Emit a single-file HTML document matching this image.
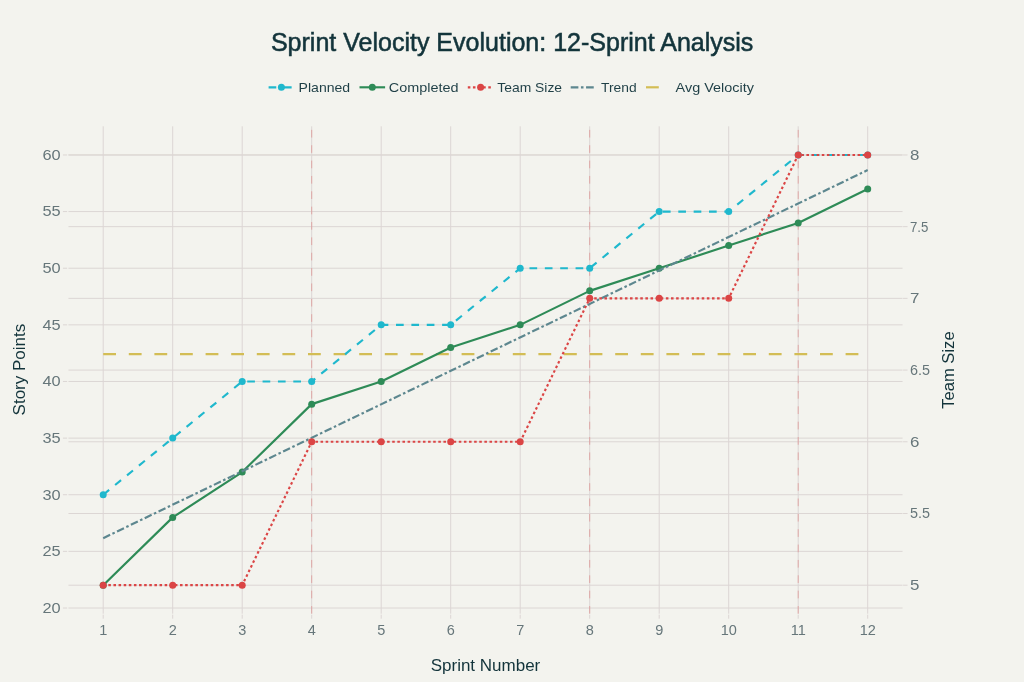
<!DOCTYPE html><html><head><meta charset="utf-8"><style>
html,body{margin:0;padding:0;background:#F3F3EE;width:1024px;height:682px;overflow:hidden}
svg{display:block;will-change:transform}
text{font-family:"Liberation Sans",sans-serif}
</style></head><body>
<svg width="1024" height="682" viewBox="0 0 1024 682">
<rect width="1024" height="682" fill="#F3F3EE"/>
<g stroke="#DCD6D4" stroke-width="1" fill="none"><line x1="68.45" y1="608.00" x2="902.55" y2="608.00"/><line x1="62.95" y1="608.00" x2="67.15" y2="608.00" /><line x1="68.45" y1="551.37" x2="902.55" y2="551.37"/><line x1="62.95" y1="551.37" x2="67.15" y2="551.37" /><line x1="68.45" y1="494.74" x2="902.55" y2="494.74"/><line x1="62.95" y1="494.74" x2="67.15" y2="494.74" /><line x1="68.45" y1="438.11" x2="902.55" y2="438.11"/><line x1="62.95" y1="438.11" x2="67.15" y2="438.11" /><line x1="68.45" y1="381.48" x2="902.55" y2="381.48"/><line x1="62.95" y1="381.48" x2="67.15" y2="381.48" /><line x1="68.45" y1="324.85" x2="902.55" y2="324.85"/><line x1="62.95" y1="324.85" x2="67.15" y2="324.85" /><line x1="68.45" y1="268.22" x2="902.55" y2="268.22"/><line x1="62.95" y1="268.22" x2="67.15" y2="268.22" /><line x1="68.45" y1="211.59" x2="902.55" y2="211.59"/><line x1="62.95" y1="211.59" x2="67.15" y2="211.59" /><line x1="68.45" y1="154.96" x2="902.55" y2="154.96"/><line x1="62.95" y1="154.96" x2="67.15" y2="154.96" /><line x1="68.45" y1="585.19" x2="902.55" y2="585.19"/><line x1="903.05" y1="585.19" x2="907.55" y2="585.19" /><line x1="68.45" y1="513.49" x2="902.55" y2="513.49"/><line x1="903.05" y1="513.49" x2="907.55" y2="513.49" /><line x1="68.45" y1="441.78" x2="902.55" y2="441.78"/><line x1="903.05" y1="441.78" x2="907.55" y2="441.78" /><line x1="68.45" y1="370.08" x2="902.55" y2="370.08"/><line x1="903.05" y1="370.08" x2="907.55" y2="370.08" /><line x1="68.45" y1="298.37" x2="902.55" y2="298.37"/><line x1="903.05" y1="298.37" x2="907.55" y2="298.37" /><line x1="68.45" y1="226.67" x2="902.55" y2="226.67"/><line x1="903.05" y1="226.67" x2="907.55" y2="226.67" /><line x1="68.45" y1="154.96" x2="902.55" y2="154.96"/><line x1="903.05" y1="154.96" x2="907.55" y2="154.96" /><line x1="103.20" y1="126.3" x2="103.20" y2="613.7"/><line x1="103.20" y1="614.7" x2="103.20" y2="618.7"/><line x1="172.70" y1="126.3" x2="172.70" y2="613.7"/><line x1="172.70" y1="614.7" x2="172.70" y2="618.7"/><line x1="242.20" y1="126.3" x2="242.20" y2="613.7"/><line x1="242.20" y1="614.7" x2="242.20" y2="618.7"/><line x1="311.70" y1="126.3" x2="311.70" y2="613.7"/><line x1="311.70" y1="614.7" x2="311.70" y2="618.7"/><line x1="381.20" y1="126.3" x2="381.20" y2="613.7"/><line x1="381.20" y1="614.7" x2="381.20" y2="618.7"/><line x1="450.70" y1="126.3" x2="450.70" y2="613.7"/><line x1="450.70" y1="614.7" x2="450.70" y2="618.7"/><line x1="520.20" y1="126.3" x2="520.20" y2="613.7"/><line x1="520.20" y1="614.7" x2="520.20" y2="618.7"/><line x1="589.70" y1="126.3" x2="589.70" y2="613.7"/><line x1="589.70" y1="614.7" x2="589.70" y2="618.7"/><line x1="659.20" y1="126.3" x2="659.20" y2="613.7"/><line x1="659.20" y1="614.7" x2="659.20" y2="618.7"/><line x1="728.70" y1="126.3" x2="728.70" y2="613.7"/><line x1="728.70" y1="614.7" x2="728.70" y2="618.7"/><line x1="798.20" y1="126.3" x2="798.20" y2="613.7"/><line x1="798.20" y1="614.7" x2="798.20" y2="618.7"/><line x1="867.70" y1="126.3" x2="867.70" y2="613.7"/><line x1="867.70" y1="614.7" x2="867.70" y2="618.7"/></g>
<line x1="311.70" y1="613.7" x2="311.70" y2="126.3" stroke="#DB4545" stroke-opacity="0.35" stroke-width="1" stroke-dasharray="7.68 7.68"/>
<line x1="589.70" y1="613.7" x2="589.70" y2="126.3" stroke="#DB4545" stroke-opacity="0.35" stroke-width="1" stroke-dasharray="7.68 7.68"/>
<line x1="798.20" y1="613.7" x2="798.20" y2="126.3" stroke="#DB4545" stroke-opacity="0.35" stroke-width="1" stroke-dasharray="7.68 7.68"/>
<line x1="103.20" y1="354.11" x2="867.70" y2="354.11" stroke="#D3BD55" stroke-width="2.2" stroke-dasharray="12.8 12.8"/>
<polyline points="103.20,494.74 172.70,438.11 242.20,381.48 311.70,381.48 381.20,324.85 450.70,324.85 520.20,268.22 589.70,268.22 659.20,211.59 728.70,211.59 798.20,154.96 867.70,154.96" fill="none" stroke="#1FB8CD" stroke-width="2.15" stroke-dasharray="7.68 7.68" stroke-linejoin="round"/>
<g fill="#1FB8CD"><circle cx="103.20" cy="494.74" r="3.5"/><circle cx="172.70" cy="438.11" r="3.5"/><circle cx="242.20" cy="381.48" r="3.5"/><circle cx="311.70" cy="381.48" r="3.5"/><circle cx="381.20" cy="324.85" r="3.5"/><circle cx="450.70" cy="324.85" r="3.5"/><circle cx="520.20" cy="268.22" r="3.5"/><circle cx="589.70" cy="268.22" r="3.5"/><circle cx="659.20" cy="211.59" r="3.5"/><circle cx="728.70" cy="211.59" r="3.5"/><circle cx="798.20" cy="154.96" r="3.5"/><circle cx="867.70" cy="154.96" r="3.5"/></g>
<polyline points="103.20,585.35 172.70,517.39 242.20,472.09 311.70,404.13 381.20,381.48 450.70,347.50 520.20,324.85 589.70,290.87 659.20,268.22 728.70,245.57 798.20,222.92 867.70,188.94" fill="none" stroke="#2E8B57" stroke-width="2.15" stroke-linejoin="round"/>
<g fill="#2E8B57"><circle cx="103.20" cy="585.35" r="3.5"/><circle cx="172.70" cy="517.39" r="3.5"/><circle cx="242.20" cy="472.09" r="3.5"/><circle cx="311.70" cy="404.13" r="3.5"/><circle cx="381.20" cy="381.48" r="3.5"/><circle cx="450.70" cy="347.50" r="3.5"/><circle cx="520.20" cy="324.85" r="3.5"/><circle cx="589.70" cy="290.87" r="3.5"/><circle cx="659.20" cy="268.22" r="3.5"/><circle cx="728.70" cy="245.57" r="3.5"/><circle cx="798.20" cy="222.92" r="3.5"/><circle cx="867.70" cy="188.94" r="3.5"/></g>
<line x1="103.20" y1="538.16" x2="867.70" y2="170.06" stroke="#5D878F" stroke-width="2.15" stroke-dasharray="7.68 2.56 2.56 2.56"/>
<polyline points="103.20,585.19 172.70,585.19 242.20,585.19 311.70,441.78 381.20,441.78 450.70,441.78 520.20,441.78 589.70,298.37 659.20,298.37 728.70,298.37 798.20,154.96 867.70,154.96" fill="none" stroke="#DB4545" stroke-width="2.15" stroke-dasharray="2.56 2.56" stroke-linejoin="round"/>
<g fill="#DB4545"><circle cx="103.20" cy="585.19" r="3.5"/><circle cx="172.70" cy="585.19" r="3.5"/><circle cx="242.20" cy="585.19" r="3.5"/><circle cx="311.70" cy="441.78" r="3.5"/><circle cx="381.20" cy="441.78" r="3.5"/><circle cx="450.70" cy="441.78" r="3.5"/><circle cx="520.20" cy="441.78" r="3.5"/><circle cx="589.70" cy="298.37" r="3.5"/><circle cx="659.20" cy="298.37" r="3.5"/><circle cx="728.70" cy="298.37" r="3.5"/><circle cx="798.20" cy="154.96" r="3.5"/><circle cx="867.70" cy="154.96" r="3.5"/></g>
<g fill="#66767A" font-size="14.5">
<text x="60.6" y="612.90" text-anchor="end" font-size="15" textLength="18.2" lengthAdjust="spacingAndGlyphs">20</text>
<text x="60.6" y="556.27" text-anchor="end" font-size="15" textLength="18.2" lengthAdjust="spacingAndGlyphs">25</text>
<text x="60.6" y="499.64" text-anchor="end" font-size="15" textLength="18.2" lengthAdjust="spacingAndGlyphs">30</text>
<text x="60.6" y="443.01" text-anchor="end" font-size="15" textLength="18.2" lengthAdjust="spacingAndGlyphs">35</text>
<text x="60.6" y="386.38" text-anchor="end" font-size="15" textLength="18.2" lengthAdjust="spacingAndGlyphs">40</text>
<text x="60.6" y="329.75" text-anchor="end" font-size="15" textLength="18.2" lengthAdjust="spacingAndGlyphs">45</text>
<text x="60.6" y="273.12" text-anchor="end" font-size="15" textLength="18.2" lengthAdjust="spacingAndGlyphs">50</text>
<text x="60.6" y="216.49" text-anchor="end" font-size="15" textLength="18.2" lengthAdjust="spacingAndGlyphs">55</text>
<text x="60.6" y="159.86" text-anchor="end" font-size="15" textLength="18.2" lengthAdjust="spacingAndGlyphs">60</text>
<text x="910" y="590.19" font-size="15" textLength="9.4" lengthAdjust="spacingAndGlyphs">5</text>
<text x="910" y="518.49" font-size="15" textLength="20.0" lengthAdjust="spacingAndGlyphs">5.5</text>
<text x="910" y="446.78" font-size="15" textLength="9.4" lengthAdjust="spacingAndGlyphs">6</text>
<text x="910" y="375.08" font-size="15" textLength="20.0" lengthAdjust="spacingAndGlyphs">6.5</text>
<text x="910" y="303.37" font-size="15" textLength="9.4" lengthAdjust="spacingAndGlyphs">7</text>
<text x="910" y="231.67" font-size="15" textLength="18.4" lengthAdjust="spacingAndGlyphs">7.5</text>
<text x="910" y="159.96" font-size="15" textLength="9.4" lengthAdjust="spacingAndGlyphs">8</text>
<text x="103.20" y="635.2" text-anchor="middle">1</text>
<text x="172.70" y="635.2" text-anchor="middle">2</text>
<text x="242.20" y="635.2" text-anchor="middle">3</text>
<text x="311.70" y="635.2" text-anchor="middle">4</text>
<text x="381.20" y="635.2" text-anchor="middle">5</text>
<text x="450.70" y="635.2" text-anchor="middle">6</text>
<text x="520.20" y="635.2" text-anchor="middle">7</text>
<text x="589.70" y="635.2" text-anchor="middle">8</text>
<text x="659.20" y="635.2" text-anchor="middle">9</text>
<text x="728.70" y="635.2" text-anchor="middle">10</text>
<text x="798.20" y="635.2" text-anchor="middle">11</text>
<text x="867.70" y="635.2" text-anchor="middle">12</text>
</g>
<g fill="#13343B" font-size="17">
<text x="485.5" y="671.2" text-anchor="middle">Sprint Number</text>
<text transform="translate(25,369.6) rotate(-90)" text-anchor="middle">Story Points</text>
<text transform="translate(954,370.1) rotate(-90)" text-anchor="middle" textLength="77.5" lengthAdjust="spacingAndGlyphs">Team Size</text>
</g>
<text x="270.9" y="50.6" fill="#13343B" stroke="#13343B" stroke-width="0.55" font-size="25.5" textLength="482.5" lengthAdjust="spacingAndGlyphs">Sprint Velocity Evolution: 12-Sprint Analysis</text>
<line x1="268.60" y1="87.3" x2="294.20" y2="87.3" stroke="#1FB8CD" stroke-width="2.15" stroke-dasharray="7.68 7.68"/><circle cx="281.40" cy="87.3" r="3.5" fill="#1FB8CD"/><text x="298.60" y="92.00" fill="#1F3F46" font-size="13.6" textLength="51.6" lengthAdjust="spacingAndGlyphs">Planned</text>
<line x1="359.50" y1="87.3" x2="385.10" y2="87.3" stroke="#2E8B57" stroke-width="2.15"/><circle cx="372.30" cy="87.3" r="3.5" fill="#2E8B57"/><text x="388.80" y="92.00" fill="#1F3F46" font-size="13.6" textLength="69.8" lengthAdjust="spacingAndGlyphs">Completed</text>
<line x1="467.80" y1="87.3" x2="493.40" y2="87.3" stroke="#DB4545" stroke-width="2.15" stroke-dasharray="2.56 2.56"/><circle cx="480.60" cy="87.3" r="3.5" fill="#DB4545"/><text x="497.30" y="92.00" fill="#1F3F46" font-size="13.6" textLength="64.8" lengthAdjust="spacingAndGlyphs">Team Size</text>
<line x1="570.70" y1="87.3" x2="596.30" y2="87.3" stroke="#5D878F" stroke-width="2.15" stroke-dasharray="7.68 2.56 2.56 2.56"/><text x="601.00" y="92.00" fill="#1F3F46" font-size="13.6" textLength="35.6" lengthAdjust="spacingAndGlyphs">Trend</text>
<line x1="646.00" y1="87.3" x2="671.60" y2="87.3" stroke="#D3BD55" stroke-width="2.2" stroke-dasharray="12.8 12.8"/><text x="675.60" y="92.00" fill="#1F3F46" font-size="13.6" textLength="78.3" lengthAdjust="spacingAndGlyphs">Avg Velocity</text>
</svg></body></html>
